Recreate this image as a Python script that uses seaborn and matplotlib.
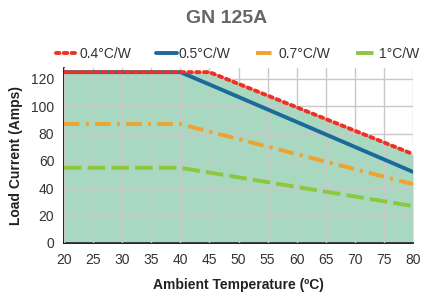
import matplotlib
matplotlib.use("Agg")
import matplotlib.pyplot as plt
import seaborn as sns
import pandas as pd

temps = [20, 40, 45, 80]
series_names = ["0.4°C/W", "0.5°C/W", "0.7°C/W", "1°C/W"]
i_04 = [125, 125, 125, 65]
i_05 = [125, 125, 116, 52]
i_07 = [87, 87, 81.5, 43]
i_10 = [55, 55, 51.5, 27]

colors = ["#ee3124", "#1a6a9a", "#f0a22e", "#8dc63f"]

sns.set_theme(style="whitegrid")
plt.rcParams["font.family"] = ["Liberation Sans", "DejaVu Sans"]

rows = []
for name, vals in zip(series_names, [i_04, i_05, i_07, i_10]):
    for t, v in zip(temps, vals):
        rows.append({"temp": t, "current": v, "series": name})
df = pd.DataFrame(rows)

fig = plt.figure(figsize=(4.28, 2.92), dpi=100)
ax = fig.add_axes([0.1495, 0.168, 0.8155, 0.599])

ax.fill_between(temps, 0, i_04, color="#a8d9c0", zorder=1, linewidth=0)

styles = {
    "0.4°C/W": dict(linestyle=(0, (0.9, 1.1)), dash_capstyle="round"),
    "0.5°C/W": dict(linestyle="-"),
    "0.7°C/W": dict(linestyle=(0, (4, 1.6, 0.8, 1.6))),
    "1°C/W": dict(linestyle=(0, (4.5, 1.6))),
}
order = ["1°C/W", "0.7°C/W", "0.5°C/W", "0.4°C/W"]
handles = {}
for name in order:
    sub = df[df["series"] == name]
    c = colors[series_names.index(name)]
    sns.lineplot(data=sub, x="temp", y="current", ax=ax, color=c, linewidth=2.8,
                 zorder=3, legend=False, **styles[name])
    handles[name] = ax.lines[-1]

ax.set_xlim(20, 80)
ax.set_ylim(0, 128)
ax.set_xticks(range(20, 81, 5))
ax.set_yticks(range(0, 121, 20))
ax.grid(True, color="#c8c8c8", linewidth=1)
ax.set_axisbelow(False)
for l in ax.get_xgridlines() + ax.get_ygridlines():
    l.set_zorder(2)
ax.set_facecolor("white")
for s in ["top", "right"]:
    ax.spines[s].set_visible(False)
for s in ["left", "bottom"]:
    ax.spines[s].set_color("black")
    ax.spines[s].set_linewidth(1.2)
ax.tick_params(axis="both", direction="out", length=4, width=1, color="black",
               labelsize=10, labelcolor="#333333", pad=3)
ax.set_xlabel("Ambient Temperature (ºC)", fontsize=10, fontweight="bold", color="#222222", labelpad=8)
ax.set_ylabel("Load Current (Amps)", fontsize=10, fontweight="bold", color="#222222", labelpad=6)

fig.text(0.53, 0.935, "GN 125A", ha="center", va="center", fontsize=14,
         fontweight="bold", color="#666666")
leg = fig.legend([handles[n] for n in series_names], series_names, loc="center",
                 bbox_to_anchor=(0.555, 0.815), ncol=4, frameon=False, fontsize=10,
                 handlelength=1.5, handletextpad=0.15, columnspacing=1.8)
for t in leg.get_texts():
    t.set_color("#333333")

fig.savefig("out.png", dpi=100)
